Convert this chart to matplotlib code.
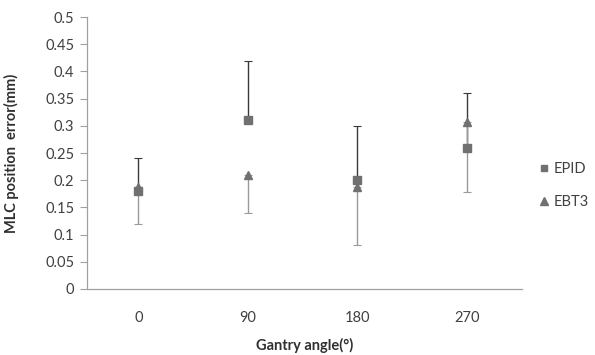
import matplotlib
matplotlib.use("Agg")
import matplotlib.pyplot as plt
import numpy as np

categories = ["0", "90", "180", "270"]
epid = [0.18, 0.31, 0.20, 0.26]
epid_plus = [0.06, 0.11, 0.10, 0.10]
ebt3 = [0.187, 0.21, 0.188, 0.307]
ebt3_minus = [0.067, 0.07, 0.108, 0.129]

plt.rcParams['font.family'] = ['Lato', 'DejaVu Sans']

fig = plt.figure(figsize=(5.95, 3.55), dpi=100)
ax = fig.add_axes([0.146, 0.186, 0.731, 0.766])
x = np.arange(len(categories))

ax.errorbar(x, epid, yerr=[np.zeros(len(epid)), epid_plus], fmt='none',
            ecolor='#3a3a3a', elinewidth=1.0, capsize=3, capthick=0.8, zorder=2)
ax.errorbar(x, ebt3, yerr=[ebt3_minus, np.zeros(len(ebt3))], fmt='none',
            ecolor='#9a9a9a', elinewidth=1.0, capsize=3, capthick=0.8, zorder=2)
ax.plot(x, epid, linestyle='none', marker='s', markersize=5.8, color='#707070',
        label='EPID', zorder=3)
ax.plot(x, ebt3, linestyle='none', marker='^', markersize=6.3, color='#707070',
        label='EBT3', zorder=3)

ax.set_xlim(-0.47, 3.5)
ax.set_ylim(0, 0.5)
ax.set_xticks(x)
ax.set_xticklabels(categories)
yt = np.round(np.arange(0, 0.501, 0.05), 2)
ax.set_yticks(yt)
ax.set_yticklabels([f"{v:g}" for v in yt])
ax.tick_params(axis='x', length=0, pad=16, labelsize=10.5, colors='#404040')
ax.tick_params(axis='y', length=5, width=0.8, color='#a0a0a0', pad=4,
               labelsize=10.5, labelcolor='#404040')
for s in ['top', 'right']:
    ax.spines[s].set_visible(False)
for s in ['left', 'bottom']:
    ax.spines[s].set_color('#a0a0a0')
    ax.spines[s].set_linewidth(0.9)

ax.set_xlabel('Gantry angle(°)', fontsize=10.5, fontweight='bold', color='#303030', labelpad=9)
ax.set_ylabel('MLC position  error(mm)', fontsize=10.5, fontweight='bold', color='#303030', labelpad=19)

ax.legend(loc='center left', bbox_to_anchor=(1.018, 0.38), frameon=False,
          fontsize=10.5, handlelength=0.6, handletextpad=0.35, labelspacing=1.3,
          labelcolor='#404040', markerscale=0.85, borderaxespad=0.3)

fig.savefig('out.png', dpi=100)
